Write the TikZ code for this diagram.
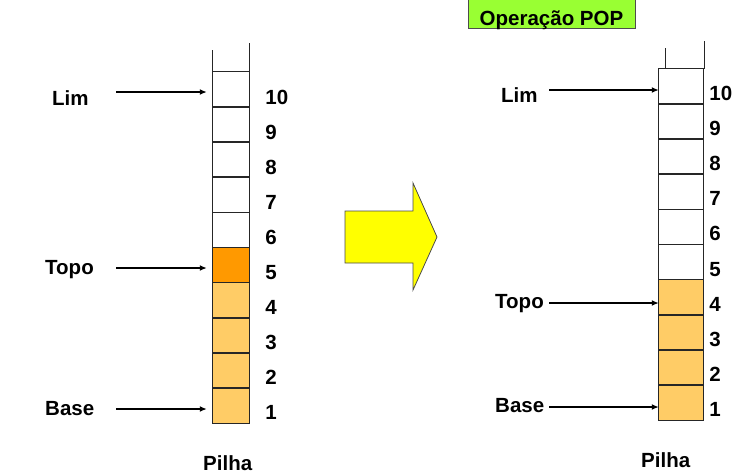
\documentclass[tikz,border=0pt]{standalone}
\usepackage{fontspec}
\setmainfont{Liberation Sans}
\usetikzlibrary{arrows.meta,positioning}
\definecolor{cheio}{HTML}{FFCC66}
\definecolor{topo}{HTML}{FF9900}
\definecolor{seta}{HTML}{FFFF00}
\definecolor{titulo}{HTML}{99FF33}
\tikzstyle{every node}=[font=\fontsize{20.5}{24}\selectfont\bfseries, inner sep=0pt]

\begin{document}
\begin{tikzpicture}[x=1pt, y=-1pt,
    cell/.style={minimum height=35.1pt},
    borda/.style={draw=black!85, line width=1.3pt},
    ptr/.style={-{Latex[length=7pt,width=6pt]}, line width=1.7pt},
    num/.style={anchor=base west},
    rotulo/.style={anchor=base west}]
  \useasboundingbox[fill=white] (0,0) rectangle (746,475);

  % pilha antes do POP
  \foreach \i/\c in {1/cheio,2/cheio,3/cheio,4/cheio,5/topo,6/white,7/white,8/white,9/white,10/white}{
    \node[cell, fill=\c, minimum width=36pt] (L\i) at (231,{440.55-35.1*\i}) {};
    \node[num] (nL\i) at ([xshift=16pt,yshift=-14.5pt]L\i.east) {\i};
  }
  \foreach \i in {1,...,10}
    \draw[borda] (L\i.south west) rectangle (L\i.north east);
  \draw[borda] (L10.north west) -- ++(0,-22);
  \draw[borda] (L10.north east) -- ++(0,-29);

  \node[rotulo] (limA) at (52,105) {Lim};
  \node[rotulo] (topoA) at (45,274) {Topo};
  \node[rotulo] (baseA) at (45,415) {Base};
  \node[rotulo] (pilhaA) at (203,470) {Pilha};
  \coordinate (limAs) at (116,92);
  \coordinate (topoAs) at (116,268);
  \coordinate (baseAs) at (116,409);
  \draw[ptr, shorten >=6pt] (limAs) -- (limAs -| L10.west);
  \draw[ptr, shorten >=6pt] (topoAs) -- (topoAs -| L5.west);
  \draw[ptr, shorten >=6pt] (baseAs) -- (baseAs -| L1.west);

  % seta amarela
  \draw[fill=seta, draw=black!70, line width=0.8pt] (345,211) -- (413,211) -- (413,183) -- (437,237)
    -- (413,290) -- (413,263) -- (345,263) -- cycle;

  % pilha depois do POP
  \node[draw=black!70, fill=titulo, line width=0.8pt, anchor=base, text height=22pt, text depth=0pt,
    inner ysep=3.5pt, minimum width=167pt] (op) at (551.5,25) {Operação POP};
  \foreach \i/\c in {1/cheio,2/cheio,3/cheio,4/cheio,5/white,6/white,7/white,8/white,9/white,10/white}{
    \node[cell, fill=\c, minimum width=44pt] (R\i) at (681,{437.55-35.1*\i}) {};
    \node[num] (nR\i) at ([xshift=6pt,yshift=-14pt]R\i.east) {\i};
  }
  \foreach \i in {1,...,10}
    \draw[borda] (R\i.south west) rectangle (R\i.north east);
  \draw[borda] ([xshift=7pt]R10.north west) -- ++(0,-21);
  \draw[borda] ([xshift=1pt]R10.north east) -- ++(0,-28);

  \node[rotulo] (limB) at (501,102) {Lim};
  \node[rotulo] (topoB) at (495,308) {Topo};
  \node[rotulo] (baseB) at (495,412) {Base};
  \node[rotulo] (pilhaB) at (641,467) {Pilha};
  \coordinate (limBs) at (549,90);
  \coordinate (topoBs) at (549,303);
  \coordinate (baseBs) at (549,407);
  \draw[ptr] (limBs) -- (limBs -| R10.west);
  \draw[ptr] (topoBs) -- (topoBs -| R4.west);
  \draw[ptr] (baseBs) -- (baseBs -| R1.west);
\end{tikzpicture}
\end{document}
